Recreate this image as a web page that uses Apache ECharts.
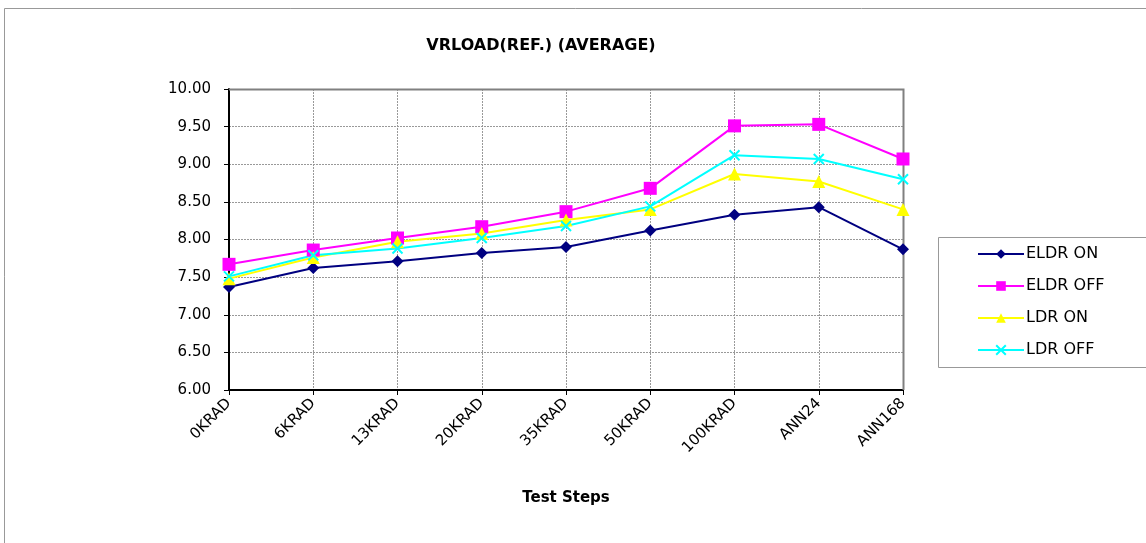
<!DOCTYPE html>
<html>
<head>
<meta charset="utf-8">
<script src="https://cdn.jsdelivr.net/npm/echarts@6/dist/echarts.min.js"></script>
<style>
  html, body { margin: 0; padding: 0; background: #fff; }
  #chart { width: 1146px; height: 543px; }
</style>
</head>
<body>
<div id="chart"></div>
<script>
var steps = ['0KRAD', '6KRAD', '13KRAD', '20KRAD', '35KRAD', '50KRAD', '100KRAD', 'ANN24', 'ANN168'];
var eldrOn  = [7.37, 7.62, 7.71, 7.82, 7.90, 8.12, 8.33, 8.43, 7.87];
var eldrOff = [7.67, 7.86, 8.02, 8.17, 8.37, 8.68, 9.51, 9.53, 9.07];
var ldrOn   = [7.48, 7.76, 7.97, 8.08, 8.26, 8.40, 8.87, 8.77, 8.40];
var ldrOff  = [7.51, 7.79, 7.88, 8.02, 8.18, 8.44, 9.12, 9.07, 8.80];

var font = 'DejaVu Sans, sans-serif';

function line(name, data, color, symbol, size, stroke) {
    return {
        name: name,
        type: 'line',
        data: data,
        symbol: symbol,
        symbolSize: size,
        lineStyle: { color: color, width: 2 },
        itemStyle: stroke
            ? { color: 'none', borderColor: color, borderWidth: 2 }
            : { color: color, borderWidth: 0 },
        emphasis: { disabled: true }
    };
}

var chart = echarts.init(document.getElementById('chart'));
chart.setOption({
    animation: false,
    backgroundColor: '#fff',
    title: {
        text: 'VRLOAD(REF.) (AVERAGE)',
        left: 536,
        top: 33,
        textAlign: 'center',
        textStyle: { fontFamily: font, fontSize: 16, fontWeight: 'bold', color: '#000' }
    },
    graphic: [
        {
            type: 'rect',
            shape: { x: 4.5, y: 8.5, width: 1150, height: 560 },
            style: { fill: 'none', stroke: '#999', lineWidth: 1 },
            silent: true, z: -1
        },
        {
            type: 'rect',
            shape: { x: 938.5, y: 237.5, width: 220, height: 130 },
            style: { fill: '#fff', stroke: '#999', lineWidth: 1 },
            silent: true, z: 0
        },
        {
            type: 'polyline',
            shape: { points: [[229, 89.5], [903.5, 89.5], [903.5, 390]] },
            style: { stroke: '#808080', lineWidth: 2, fill: 'none' },
            silent: true, z: 1
        }
    ],
    legend: {
        orient: 'vertical',
        left: 977,
        top: 245,
        padding: 0,
        itemWidth: 46,
        itemHeight: 12,
        itemGap: 14,
        textStyle: { fontFamily: font, fontSize: 16, color: '#000', padding: [0, 0, 0, -3], lineHeight: 18 },
        data: ['ELDR ON', 'ELDR OFF', 'LDR ON', 'LDR OFF'],
        z: 5
    },
    grid: { left: 229, top: 89, right: 243, bottom: 153 },
    xAxis: {
        type: 'category',
        data: steps,
        boundaryGap: false,
        name: 'Test Steps',
        nameLocation: 'middle',
        nameGap: 101,
        nameTextStyle: { fontFamily: font, fontSize: 15, fontWeight: 'bold', color: '#000' },
        axisLine: { lineStyle: { color: '#000', width: 2 } },
        axisTick: { show: true, length: 5, lineStyle: { color: '#000' } },
        axisLabel: { rotate: 45, fontFamily: font, fontSize: 15, color: '#000', margin: 11, interval: 0 },
        splitLine: { show: true, lineStyle: { color: '#999', type: [2, 1], width: 1 } }
    },
    yAxis: {
        type: 'value',
        min: 6,
        max: 10,
        interval: 0.5,
        axisLine: { show: true, lineStyle: { color: '#000', width: 2 } },
        axisTick: { show: true, length: 5, lineStyle: { color: '#000' } },
        axisLabel: {
            fontFamily: font, fontSize: 15, color: '#000', margin: 18,
            formatter: function (v) { return v.toFixed(2); }
        },
        splitLine: { show: true, lineStyle: { color: '#999', type: [2, 1], width: 1 } }
    },
    series: [
        line('ELDR ON', eldrOn, '#000080', 'diamond', 12),
        line('ELDR OFF', eldrOff, '#ff00ff', 'rect', 13),
        line('LDR ON', ldrOn, '#ffff00', 'triangle', 13),
        line('LDR OFF', ldrOff, '#00ffff', 'path://M0,0 L10,10 M10,0 L0,10', 10, true)
    ]
});
</script>
</body>
</html>
